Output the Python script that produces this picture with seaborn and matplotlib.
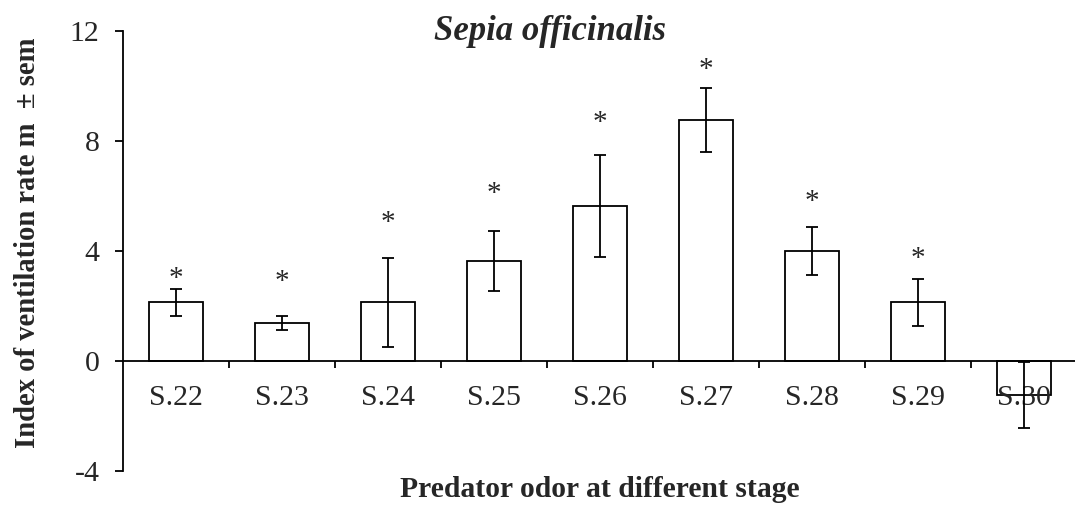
import matplotlib
matplotlib.use("Agg")
import matplotlib.pyplot as plt
import seaborn as sns
import pandas as pd
from matplotlib.ticker import FixedLocator

stages = ["S.22", "S.23", "S.24", "S.25", "S.26", "S.27", "S.28", "S.29", "S.30"]
means = [2.13, 1.38, 2.13, 3.64, 5.64, 8.76, 4.00, 2.13, -1.24]
sems = [0.48, 0.27, 1.63, 1.10, 1.85, 1.17, 0.87, 0.85, 1.19]
star_y = [3.27, 3.16, 5.31, 6.36, 8.95, 10.87, 6.10, 4.00]
y_ticks = [-4, 0, 4, 8, 12]

title = "Sepia officinalis"
xlabel = "Predator odor at different stage"
ylabel = "Index of ventilation rate m  \u00b1 sem"

sns.set_style("white")
plt.rcParams["font.family"] = ["Liberation Serif", "DejaVu Serif"]
plt.rcParams["axes.unicode_minus"] = False

df = pd.DataFrame({"stage": stages, "mean": means})

fig = plt.figure(figsize=(10.75, 5.08), dpi=100)
ax = fig.add_axes([123 / 1075, 1 - 471 / 508, (1077 - 123) / 1075, 440 / 508])
ax.set_axisbelow(False)

sns.barplot(data=df, x="stage", y="mean", color="white", edgecolor="black",
            linewidth=1.3, width=0.51, errorbar=None, saturation=1, ax=ax)
ax.errorbar(range(len(stages)), means, yerr=sems, fmt="none", ecolor="black",
            elinewidth=1.3, capsize=4.5, capthick=1.3, zorder=3)

for i, sy in enumerate(star_y):
    ax.annotate("*", xy=(i, sy), xytext=(0, -11), textcoords="offset points",
                ha="center", va="baseline", fontsize=21)

ax.set_ylim(-4, 12)
ax.set_xlim(-0.5, len(stages) - 0.5)
ax.set_yticks(y_ticks)
ax.set_yticklabels([str(t) for t in y_ticks])

for s in ["top", "right"]:
    ax.spines[s].set_visible(False)
ax.spines["bottom"].set_position(("data", 0))
for s in ["left", "bottom"]:
    ax.spines[s].set_color("black")
    ax.spines[s].set_linewidth(1.3)

ax.xaxis.set_minor_locator(FixedLocator([i + 0.5 for i in range(len(stages) - 1)]))
ax.tick_params(axis="x", which="major", length=0, pad=17, labelsize=21.5)
ax.tick_params(axis="x", which="minor", direction="out", length=5, width=1.3,
               color="black", bottom=True)
ax.tick_params(axis="y", which="major", direction="out", length=6, width=1.3,
               color="black", pad=11, labelsize=21.5, left=True)

ax.set_xlabel(xlabel, fontsize=21.3, fontweight="bold")
ax.xaxis.set_label_coords(0.5, -0.012)
ax.set_ylabel(ylabel, fontsize=20.6, fontweight="bold")
ax.yaxis.set_label_coords(-0.086, 0.518)

fig.text(550 / 1075, 1 - 40 / 508, title, fontsize=25, fontweight="bold",
         fontstyle="italic", ha="center", va="baseline")

fig.savefig("out.png", dpi=100)
